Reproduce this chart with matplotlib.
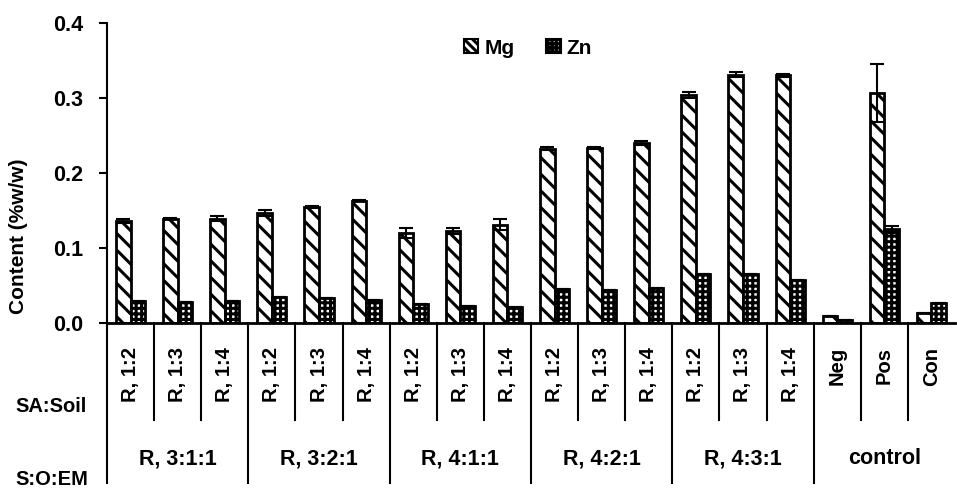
import numpy as np
import matplotlib
matplotlib.use("Agg")
import matplotlib.pyplot as plt
import matplotlib.patches as mpatches
import matplotlib.transforms as mtransforms

plt.rcParams["font.family"] = ["Liberation Sans", "DejaVu Sans"]
plt.rcParams["font.weight"] = "bold"
plt.rcParams["hatch.linewidth"] = 2.2

# ------------------------------------------------------------------ #
#  Data
# ------------------------------------------------------------------ #
ratio_labels = ["R, 1:2", "R, 1:3", "R, 1:4"] * 5 + ["Neg", "Pos", "Con"]
group_labels = ["R, 3:1:1", "R, 3:2:1", "R, 4:1:1", "R, 4:2:1", "R, 4:3:1", "control"]

mg = [0.136, 0.139, 0.139,
      0.147, 0.155, 0.163,
      0.120, 0.123, 0.131,
      0.232, 0.233, 0.240,
      0.304, 0.331, 0.330,
      0.010, 0.307, 0.014]
mg_err = [0.003, 0.001, 0.003,
          0.004, 0.001, 0.001,
          0.007, 0.004, 0.007,
          0.002, 0.001, 0.003,
          0.004, 0.003, 0.002,
          0.000, 0.039, 0.000]
zn = [0.030, 0.028, 0.029,
      0.035, 0.033, 0.031,
      0.025, 0.023, 0.021,
      0.046, 0.044, 0.047,
      0.065, 0.066, 0.058,
      0.004, 0.125, 0.027]
zn_err = [0.0, 0.0, 0.0,
          0.0, 0.0, 0.0,
          0.0, 0.0, 0.0,
          0.0, 0.0, 0.0,
          0.0, 0.0, 0.0,
          0.0, 0.005, 0.0]

# ------------------------------------------------------------------ #
#  Figure
# ------------------------------------------------------------------ #
fig = plt.figure(figsize=(9.57, 4.9), dpi=100)
ax = fig.add_axes([107 / 957, 1 - 323 / 490, 848 / 957, 300 / 490])

x = np.arange(len(mg))
w = 0.31

ax.bar(x - w / 2, mg, w, facecolor="white", edgecolor="black",
       hatch="\\\\", linewidth=2, zorder=2)
ax.errorbar(x - w / 2, mg, yerr=mg_err, fmt="none", ecolor="black",
            elinewidth=1.5, capsize=5, capthick=1.5, zorder=3)

ax.bar(x + w / 2, zn, w, facecolor="white", edgecolor="black",
       hatch="+++", linewidth=2, zorder=2)
ax.errorbar(x + w / 2, zn, yerr=zn_err, fmt="none", ecolor="black",
            elinewidth=1.5, capsize=5, capthick=1.5, zorder=3)

ax.set_xlim(-0.5, len(mg) - 0.5)
ax.set_ylim(0, 0.4)
yt = [0.0, 0.1, 0.2, 0.3, 0.4]
ax.set_yticks(yt)
ax.set_yticklabels([f"{v:.1f}" for v in yt], fontsize=15.5, fontweight="bold")
ax.tick_params(axis="y", direction="out", length=6, width=1.5, pad=11)
ax.set_xticks([])
for s in ["top", "right"]:
    ax.spines[s].set_visible(False)
ax.spines["left"].set_linewidth(1.5)
ax.spines["bottom"].set_linewidth(2)
ax.set_ylabel("Content (%w/w)", fontsize=15, fontweight="bold")
ax.yaxis.set_label_coords((28 - 107) / 848, (323 - 236) / 300)

# ------------------------------------------------------------------ #
#  Two-level category axis
# ------------------------------------------------------------------ #
trans = mtransforms.blended_transform_factory(ax.transData, ax.transAxes)
row1_bottom = (323 - 420) / 300
row2_bottom = (323 - 483) / 300

for i, lab in enumerate(ratio_labels):
    ax.text(i, -0.08, lab, rotation=90, ha="center", va="top",
            fontsize=14.5, fontweight="bold", transform=trans)
for k in range(1, len(ratio_labels)):
    if k % 3 == 0:
        continue
    ax.plot([k - 0.5, k - 0.5], [0, row1_bottom], color="black", lw=1.5,
            transform=trans, clip_on=False)

for g, lab in enumerate(group_labels):
    ax.text(3 * g + 1, -0.453, lab, ha="center", va="center",
            fontsize=15.5, fontweight="bold", transform=trans)
for g in range(len(group_labels)):
    ax.plot([3 * g - 0.5, 3 * g - 0.5], [0, row2_bottom], color="black", lw=1.5,
            transform=trans, clip_on=False)

fig.text(15 / 957, 1 - 407 / 490, "SA:Soil", ha="left", va="center",
         fontsize=14.5, fontweight="bold")
fig.text(15 / 957, 1 - 479 / 490, "S:O:EM", ha="left", va="center",
         fontsize=14.5, fontweight="bold")

# Legend
h_mg = mpatches.Patch(facecolor="white", edgecolor="black", hatch="\\\\\\\\", linewidth=1.5)
h_zn = mpatches.Patch(facecolor="white", edgecolor="black", hatch="++++", linewidth=1.5)
fig.legend(handles=[h_mg, h_zn], labels=["Mg", "Zn"], ncol=2, frameon=False,
           loc="center", bbox_to_anchor=(528 / 957, 1 - 48 / 490),
           handlelength=0.7, handleheight=0.7, handletextpad=0.3,
           columnspacing=1.5, prop={"size": 15, "weight": "bold"})

fig.savefig("out.png", dpi=100)
